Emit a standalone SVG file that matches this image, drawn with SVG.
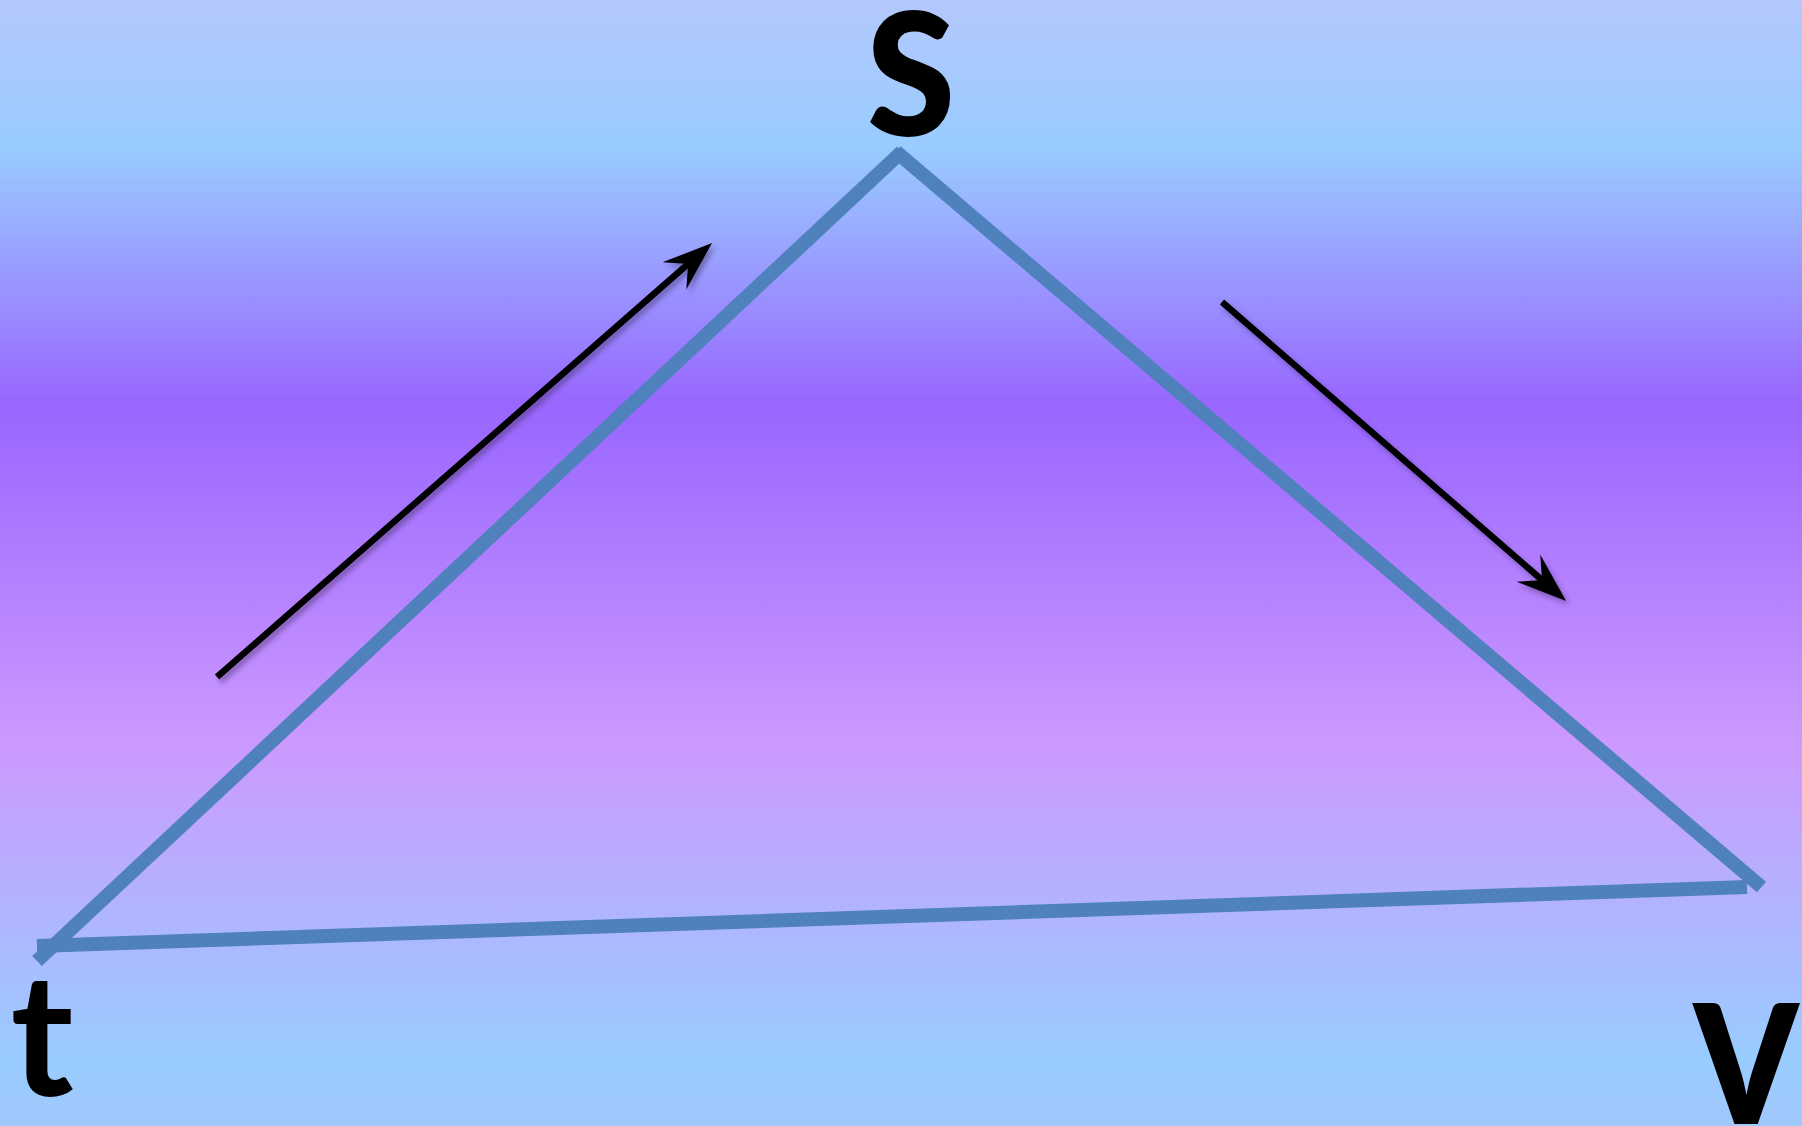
<svg xmlns="http://www.w3.org/2000/svg" width="1802" height="1126" viewBox="0 0 1802 1126">
<style>
.edge{stroke:#4f81bd;stroke-width:14;fill:none;stroke-linecap:butt}
.arr{stroke:#000;stroke-width:6.5;fill:none;stroke-linecap:butt}
.lbl{font-family:Lato,"Open Sans","Liberation Sans",sans-serif;font-weight:bold;fill:#000;text-anchor:middle}
</style>
<defs>
<linearGradient id="bg" x1="0" y1="0" x2="0" y2="1">
<stop offset="0" stop-color="#b4c8fc"/>
<stop offset="0.13" stop-color="#99ccff"/>
<stop offset="0.36" stop-color="#9966ff"/>
<stop offset="0.66" stop-color="#cc99ff"/>
<stop offset="0.94" stop-color="#99ccff"/>
<stop offset="1" stop-color="#a0c8fc"/>
</linearGradient>
<filter id="sh" x="-20%" y="-20%" width="140%" height="140%">
<feDropShadow dx="3" dy="4" stdDeviation="2.5" flood-color="#3a2a5a" flood-opacity="0.45"/>
</filter>
<marker id="head" markerUnits="userSpaceOnUse" viewBox="-20 -20 60 40" refX="0" refY="0" markerWidth="60" markerHeight="40" orient="auto" overflow="visible">
<path d="M32,0 L-18,-18 L0,0 L-18,18 Z" fill="#000"/>
</marker>
</defs>
<rect width="1802" height="1126" fill="url(#bg)"/>
<g id="connectors">
<line class="edge" x1="902" y1="151.5" x2="37" y2="961"/>
<line class="edge" x1="896" y1="151.7" x2="1761.5" y2="887"/>
<line class="edge" x1="37" y1="946" x2="1747" y2="887"/>
<g filter="url(#sh)">
<line class="arr" x1="217" y1="677" x2="688" y2="264" marker-end="url(#head)"/>
<line class="arr" x1="1222" y1="302" x2="1542" y2="580" marker-end="url(#head)"/>
</g>
</g>
<g id="node-s"><text class="lbl" font-size="240" transform="translate(911,135) scale(0.87,1)">s</text></g>
<g id="node-t"><text class="lbl" font-size="170" transform="translate(42,1096)">t</text></g>
<g id="node-v"><text class="lbl" font-size="236" transform="translate(1746,1124) scale(0.88,1)">v</text></g>
</svg>
